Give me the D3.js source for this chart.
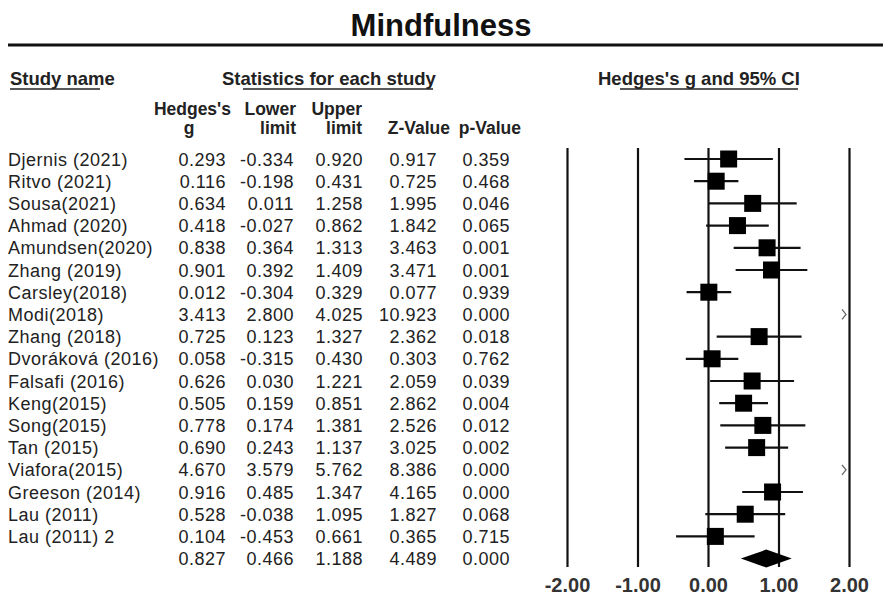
<!DOCTYPE html>
<html>
<head>
<meta charset="utf-8">
<script src="https://cdn.jsdelivr.net/npm/d3@7"></script>
<style>
  body { margin: 0; background: #fff; }
  svg { display: block; }
</style>
</head>
<body>
<svg id="chart" width="883" height="614"></svg>
<script>
// study rows, top to bottom
let studies = ["Djernis (2021)", "Ritvo (2021)", "Sousa(2021)", "Ahmad (2020)", "Amundsen(2020)",
  "Zhang (2019)", "Carsley(2018)", "Modi(2018)", "Zhang (2018)", "Dvoráková (2016)",
  "Falsafi (2016)", "Keng(2015)", "Song(2015)", "Tan (2015)", "Viafora(2015)",
  "Greeson (2014)", "Lau (2011)", "Lau (2011) 2"];
let hedges_g = [0.293, 0.116, 0.634, 0.418, 0.838, 0.901, 0.012, 3.413, 0.725, 0.058,
  0.626, 0.505, 0.778, 0.690, 4.670, 0.916, 0.528, 0.104];
let lower_limit = [-0.334, -0.198, 0.011, -0.027, 0.364, 0.392, -0.304, 2.800, 0.123, -0.315,
  0.030, 0.159, 0.174, 0.243, 3.579, 0.485, -0.038, -0.453];
let upper_limit = [0.920, 0.431, 1.258, 0.862, 1.313, 1.409, 0.329, 4.025, 1.327, 0.430,
  1.221, 0.851, 1.381, 1.137, 5.762, 1.347, 1.095, 0.661];
let z_value = [0.917, 0.725, 1.995, 1.842, 3.463, 3.471, 0.077, 10.923, 2.362, 0.303,
  2.059, 2.862, 2.526, 3.025, 8.386, 4.165, 1.827, 0.365];
let p_value = [0.359, 0.468, 0.046, 0.065, 0.001, 0.001, 0.939, 0.000, 0.018, 0.762,
  0.039, 0.004, 0.012, 0.002, 0.000, 0.000, 0.068, 0.715];
// pooled estimate
let summary = {g: 0.827, lower: 0.466, upper: 1.188, z: 4.489, p: 0.000};
let tick_values = [-2, -1, 0, 1, 2];

var svg = d3.select("#chart");
// plain hyphen for negatives, like the original output
var locale = d3.formatLocale({decimal: ".", thousands: ",", grouping: [3], currency: ["", ""], minus: "-"});
var fmt = locale.format(".3f");

var row_top = 159, row_step = 22.2;
var plot_top = 148, plot_bottom = 567;

var rows = studies.map(function(name, i) {
  return {name: name, g: hedges_g[i], lo: lower_limit[i], hi: upper_limit[i],
          z: z_value[i], p: p_value[i]};
});

var y = d3.scaleLinear().domain([0, 1]).range([row_top, row_top + row_step]);
var x = d3.scaleLinear().domain([-2, 2]).range([567, 849]);

// title and rule
svg.append("text")
  .attr("x", 441).attr("y", 36)
  .attr("text-anchor", "middle")
  .attr("font-family", "Liberation Sans, Arial, sans-serif")
  .attr("font-weight", "bold")
  .attr("font-size", 31)
  .attr("fill", "#111")
  .text("Mindfulness");

svg.append("line")
  .attr("x1", 8).attr("x2", 883)
  .attr("y1", 45).attr("y2", 45)
  .attr("stroke", "#111").attr("stroke-width", 3);

// header
var head = svg.append("g")
  .attr("font-family", "Liberation Sans, Arial, sans-serif")
  .attr("font-weight", "bold")
  .attr("font-size", 18.5)
  .attr("fill", "#222");

head.append("text").attr("x", 10).attr("y", 85).text("Study name");
head.append("text").attr("x", 222).attr("y", 85).text("Statistics for each study");
head.append("text").attr("x", 598).attr("y", 85).text("Hedges's g and 95% CI");

var underlines = [[10, 100], [243, 433], [620, 798]];
underlines.forEach(function(u) {
  svg.append("line")
    .attr("x1", u[0]).attr("x2", u[1])
    .attr("y1", 89).attr("y2", 89)
    .attr("stroke", "#222").attr("stroke-width", 1.5);
});

var col_right = [226, 294, 363, 437, 510];
var col_head = [["Hedges's", "g"], ["Lower", "limit"], ["Upper", "limit"], ["", "Z-Value"], ["", "p-Value"]];
var head_right = [231, 296, 362, 450, 521];
var head2 = svg.append("g")
  .attr("font-family", "Liberation Sans, Arial, sans-serif")
  .attr("font-weight", "bold")
  .attr("font-size", 17.5)
  .attr("fill", "#222");
col_head.forEach(function(h, i) {
  head2.append("text")
    .attr("x", head_right[i]).attr("y", 115)
    .attr("text-anchor", "end")
    .text(h[0]);
  var t = head2.append("text").attr("y", 134).text(h[1]);
  if (i == 0) t.attr("x", 189).attr("text-anchor", "middle");
  else t.attr("x", head_right[i]).attr("text-anchor", "end");
});

// table body
var body = svg.append("g")
  .attr("font-family", "Liberation Sans, Arial, sans-serif")
  .attr("font-size", 18)
  .attr("letter-spacing", 0.5)
  .attr("fill", "#222");

var keys = ["g", "lo", "hi", "z", "p"];
rows.forEach(function(d, i) {
  body.append("text")
    .attr("x", 8).attr("y", y(i) + 6.5)
    .text(d.name);
  keys.forEach(function(k, j) {
    body.append("text")
      .attr("x", col_right[j]).attr("y", y(i) + 6.5)
      .attr("text-anchor", "end")
      .text(fmt(d[k]));
  });
});

var sum_vals = [summary.g, summary.lower, summary.upper, summary.z, summary.p];
sum_vals.forEach(function(v, j) {
  body.append("text")
    .attr("x", col_right[j]).attr("y", y(studies.length) + 6.5)
    .attr("text-anchor", "end")
    .text(fmt(v));
});

// forest axis with full-height reference lines
var axis = svg.append("g")
  .attr("transform", "translate(0," + plot_bottom + ")")
  .call(d3.axisBottom(x)
    .tickValues(tick_values)
    .tickFormat(locale.format(".2f"))
    .tickSizeInner(-(plot_bottom - plot_top))
    .tickSizeOuter(0)
    .tickPadding(11));

axis.select(".domain").remove();
axis.selectAll(".tick line")
  .attr("stroke", "#111")
  .attr("stroke-width", 2.2);
axis.selectAll(".tick text")
  .attr("font-family", "Liberation Sans, Arial, sans-serif")
  .attr("font-weight", "bold")
  .attr("font-size", 20)
  .attr("fill", "#333");

// study markers
var forest = svg.append("g");
var box = 17;
var xmin = x.domain()[0], xmax = x.domain()[1];

rows.forEach(function(d, i) {
  var cy = y(i);
  if (d.lo > xmax) {
    // out of range, draw arrow at the right edge
    var ax = x(xmax) - 3;
    forest.append("path")
      .attr("d", "M" + (ax - 4) + "," + (cy - 5) + " L" + ax + "," + cy + " L" + (ax - 4) + "," + (cy + 5))
      .attr("fill", "none")
      .attr("stroke", "#666")
      .attr("stroke-width", 1.3);
    return;
  }
  forest.append("line")
    .attr("x1", x(Math.max(d.lo, xmin))).attr("x2", x(Math.min(d.hi, xmax)))
    .attr("y1", cy).attr("y2", cy)
    .attr("stroke", "#111").attr("stroke-width", 2.2);
  forest.append("rect")
    .attr("x", x(d.g) - box / 2).attr("y", cy - box / 2)
    .attr("width", box).attr("height", box)
    .attr("fill", "#000");
});

// pooled diamond
var sy = y(studies.length);
forest.append("path")
  .attr("d", "M" + x(summary.lower) + "," + sy +
             " L" + x(summary.g) + "," + (sy - 9) +
             " L" + x(summary.upper) + "," + sy +
             " L" + x(summary.g) + "," + (sy + 9) + " Z")
  .attr("fill", "#000");
</script>
</body>
</html>
